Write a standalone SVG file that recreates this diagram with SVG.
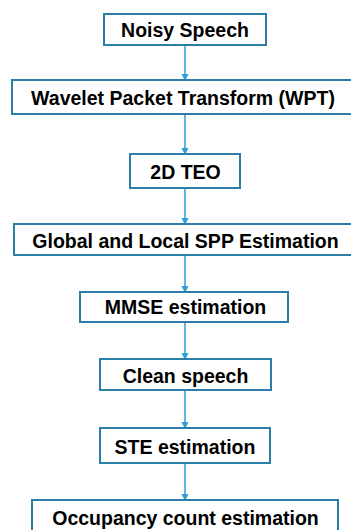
<svg xmlns="http://www.w3.org/2000/svg" width="351" height="530" viewBox="0 0 351 530">
<defs>
<marker id="ah" markerWidth="8" markerHeight="8" refX="6" refY="3.5" orient="auto" markerUnits="userSpaceOnUse">
<path d="M0,0 L7,3.5 L0,7 Z" fill="#2a9fd8"/>
</marker>
<style>
.box{fill:#ffffff;stroke:#2b7ea8;stroke-width:2}
.lbl{font-family:"Liberation Sans",Arial,sans-serif;font-weight:bold;font-size:19.5px;fill:#000;text-anchor:middle}
.con{stroke:#2a9fd8;stroke-width:1.5;fill:none;marker-end:url(#ah)}
</style>
</defs>
<rect width="351" height="530" fill="#ffffff"/>
<g id="connectors">
<line class="con" x1="185" y1="45" x2="185" y2="80"/>
<line class="con" x1="185" y1="114" x2="185" y2="154"/>
<line class="con" x1="185" y1="188" x2="185" y2="224"/>
<line class="con" x1="185" y1="255" x2="185" y2="292"/>
<line class="con" x1="185" y1="322" x2="185" y2="359"/>
<line class="con" x1="185" y1="390" x2="185" y2="428"/>
<line class="con" x1="185" y1="463" x2="185" y2="500"/>
</g>
<g id="n1"><rect class="box" x="104" y="14" width="162" height="31"/><text class="lbl" x="185" y="37">Noisy Speech</text></g>
<g id="n2"><rect class="box" x="12" y="80" width="345" height="34"/><text class="lbl" x="183" y="105">Wavelet Packet Transform (WPT)</text></g>
<g id="n3"><rect class="box" x="130" y="154" width="110" height="34"/><text class="lbl" x="185.5" y="179">2D TEO</text></g>
<g id="n4"><rect class="box" x="14" y="224" width="345" height="31"/><text class="lbl" x="185.5" y="248">Global and Local SPP Estimation</text></g>
<g id="n5"><rect class="box" x="80" y="292" width="208" height="30"/><text class="lbl" x="185.5" y="314">MMSE estimation</text></g>
<g id="n6"><rect class="box" x="100" y="359" width="171" height="31"/><text class="lbl" x="185.5" y="383">Clean speech</text></g>
<g id="n7"><rect class="box" x="100" y="428" width="170" height="35"/><text class="lbl" x="185" y="454">STE estimation</text></g>
<g id="n8"><rect class="box" x="32" y="500" width="306" height="40"/><text class="lbl" x="185.5" y="525">Occupancy count estimation</text></g>
</svg>
